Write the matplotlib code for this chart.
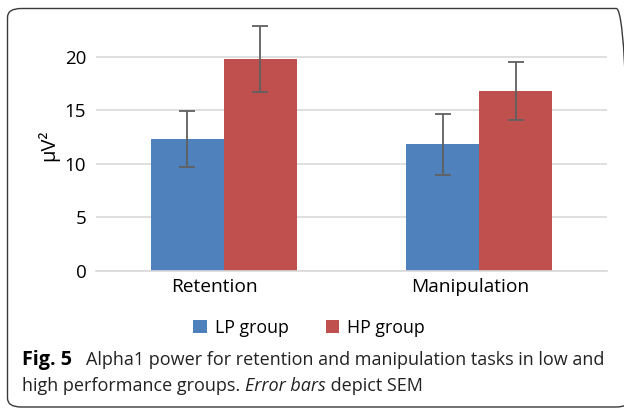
import matplotlib
matplotlib.use("Agg")
import matplotlib.pyplot as plt
from matplotlib.patches import FancyBboxPatch, Patch
import matplotlib.transforms as mtransforms
import numpy as np

categories = ["Retention", "Manipulation"]
series_names = ["LP group", "HP group"]
lp_values = [12.3, 11.8]
hp_values = [19.8, 16.8]
lp_sem = [2.6, 2.85]
hp_sem = [3.1, 2.7]
y_ticks = [0, 5, 10, 15, 20]
colors = ["#4F81BD", "#C0504D"]

W, H = 624, 409
fig = plt.figure(figsize=(W / 100, H / 100), dpi=100)

def px(x0, y0, x1, y1):
    return [x0 / W, 1 - y1 / H, (x1 - x0) / W, (y1 - y0) / H]

# outer rounded border (right and bottom sides run off the image)
border = FancyBboxPatch((7.5 / W, 1 - 407 / H), (630 - 7.5) / W, (407 - 8.5) / H,
                        boxstyle="round,pad=0,rounding_size=0.022",
                        transform=fig.transFigure, fill=False,
                        edgecolor="#3a3a3a", linewidth=1.0, clip_on=False)
fig.patches.append(border)

y0_px = 270.7
ppu = 10.7
ymax = 23.5
ax = fig.add_axes(px(96, y0_px - ymax * ppu, 607, y0_px))

x = np.arange(len(categories))
bw = 0.2857
err_kw = dict(ecolor="#606060", elinewidth=1.3, capsize=5.5, capthick=1.3)
ax.bar(x - bw / 2, lp_values, bw, color=colors[0], yerr=lp_sem, error_kw=err_kw,
       label=series_names[0], zorder=3)
ax.bar(x + bw / 2, hp_values, bw, color=colors[1], yerr=hp_sem, error_kw=err_kw,
       label=series_names[1], zorder=3)

ax.set_xlim(-0.5, 1.5)
ax.set_ylim(0, ymax)
ax.set_yticks(y_ticks)
ax.set_xticks(x)
ax.set_xticklabels(categories)
for s in ["top", "right", "left"]:
    ax.spines[s].set_visible(False)
ax.spines["bottom"].set_color("#d9d9d9")
ax.spines["bottom"].set_linewidth(1.2)
ax.spines["bottom"].set_zorder(4)
ax.grid(axis="y", color="#d9d9d9", linewidth=1.2, zorder=0)
ax.tick_params(axis="y", length=0, labelsize=13.5, colors="black", pad=7)
ax.tick_params(axis="x", length=0, labelsize=13.8, colors="black", pad=5)
for lab in ax.get_xticklabels() + ax.get_yticklabels():
    lab.set_fontfamily("Open Sans")
shift = mtransforms.ScaledTranslation(-9 / 100, 0, fig.dpi_scale_trans)
for lab in ax.get_xticklabels():
    lab.set_transform(lab.get_transform() + shift)
ax.set_ylabel("µV²", fontsize=14.5, fontfamily="Open Sans", labelpad=4)

handles = [Patch(facecolor=c, edgecolor="none") for c in colors]
fig.legend(handles, series_names, loc="center", bbox_to_anchor=(309 / W, 1 - 328 / H),
           ncol=2, frameon=False, prop={"family": "Open Sans", "size": 12.8},
           handlelength=0.75, handleheight=0.75, handletextpad=0.45, columnspacing=2.1)

cap_fs = 13.0
fig.text(22 / W, 1 - 360 / H, "Fig. 5", fontsize=14.2, fontweight="bold",
         fontfamily="Open Sans", va="center", ha="left")
fig.text(86 / W, 1 - 360 / H,
         "Alpha1 power for retention and manipulation tasks in low and",
         fontsize=cap_fs, fontfamily="Open Sans", va="center", ha="left", color="#222222")
t1 = fig.text(22 / W, 1 - 386 / H, "high performance groups. ", fontsize=cap_fs,
              fontfamily="Open Sans", va="center", ha="left", color="#222222")
fig.canvas.draw()
r = fig.canvas.get_renderer()
bb = t1.get_window_extent(r)
t2 = fig.text(bb.x1 / W, 1 - 386 / H, "Error bars", fontsize=cap_fs, fontstyle="italic",
              fontfamily="Open Sans", va="center", ha="left", color="#222222")
bb2 = t2.get_window_extent(r)
fig.text(bb2.x1 / W, 1 - 386 / H, " depict SEM", fontsize=cap_fs,
         fontfamily="Open Sans", va="center", ha="left", color="#222222")

fig.savefig("out.png", dpi=100)
